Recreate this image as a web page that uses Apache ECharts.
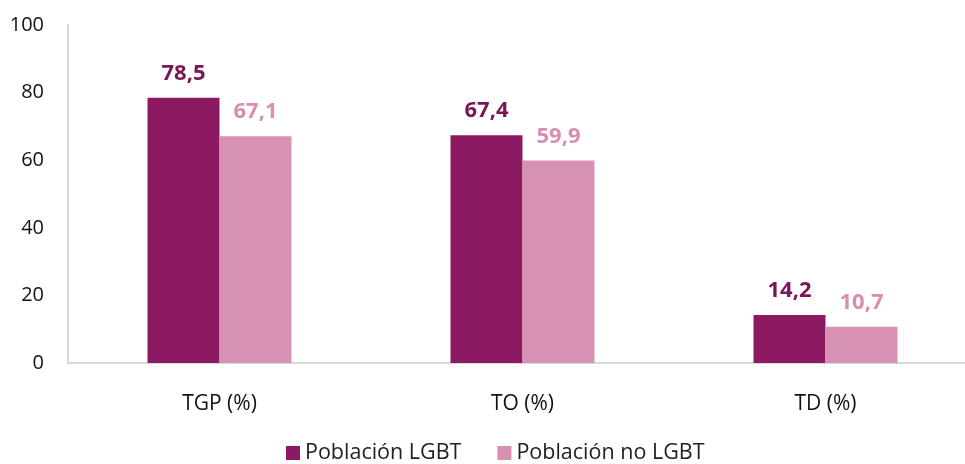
<!DOCTYPE html>
<html>
<head>
<meta charset="utf-8">
<script src="https://cdn.jsdelivr.net/npm/echarts@6/dist/echarts.min.js"></script>
<style>
html,body{margin:0;padding:0;background:#fff;overflow:hidden;}
#main{width:977px;height:464px;}
</style>
</head>
<body>
<div id="main"></div>
<script>
// categorias y valores
var categories = ['TGP (%)', 'TO (%)', 'TD (%)'];
var seriesNames = ['Población LGBT', 'Población no LGBT'];
var lgbtData = [78.5, 67.4, 14.2];
var noLgbtData = [67.1, 59.9, 10.7];
var yTicks = [0, 20, 40, 60, 80, 100];

var font = '"Open Sans", "Noto Sans", sans-serif';
var chart = echarts.init(document.getElementById('main'));

function fmt(p) {
    return p.value.toFixed(1).replace('.', ',');
}

var option = {
    animation: false,
    color: ['#8B1A62', '#D791B2'],
    grid: {
        left: 68,
        right: 0,
        top: 25,
        bottom: 101
    },
    legend: {
        bottom: -5,
        left: 281,
        itemWidth: 14,
        itemHeight: 14,
        itemGap: 36,
        icon: 'rect',
        textStyle: { fontFamily: font, fontSize: 21.5, color: '#222' },
        data: seriesNames
    },
    xAxis: {
        type: 'category',
        data: categories,
        axisLine: { lineStyle: { color: '#d9d9d9', width: 2 } },
        axisTick: { show: false },
        axisLabel: { fontFamily: font, fontSize: 21, color: '#111', margin: 31 }
    },
    yAxis: {
        type: 'value',
        min: yTicks[0],
        max: yTicks[yTicks.length - 1],
        interval: 20,
        axisLine: { show: true, lineStyle: { color: '#d9d9d9', width: 2 } },
        axisTick: { show: false },
        splitLine: { show: false },
        axisLabel: { fontFamily: font, fontSize: 20, color: '#111', margin: 24 }
    },
    series: [
        {
            name: seriesNames[0],
            type: 'bar',
            barWidth: 72,
            barGap: '0%',
            data: lgbtData,
            label: {
                show: true,
                position: 'top',
                distance: 13,
                formatter: fmt,
                fontFamily: font,
                fontSize: 22,
                fontWeight: 'bold',
                color: '#7A1656'
            }
        },
        {
            name: seriesNames[1],
            type: 'bar',
            barWidth: 72,
            data: noLgbtData,
            label: {
                show: true,
                position: 'top',
                distance: 13,
                formatter: fmt,
                fontFamily: font,
                fontSize: 22,
                fontWeight: 'bold',
                color: '#D98DB0'
            }
        }
    ]
};
chart.setOption(option);
</script>
</body>
</html>
